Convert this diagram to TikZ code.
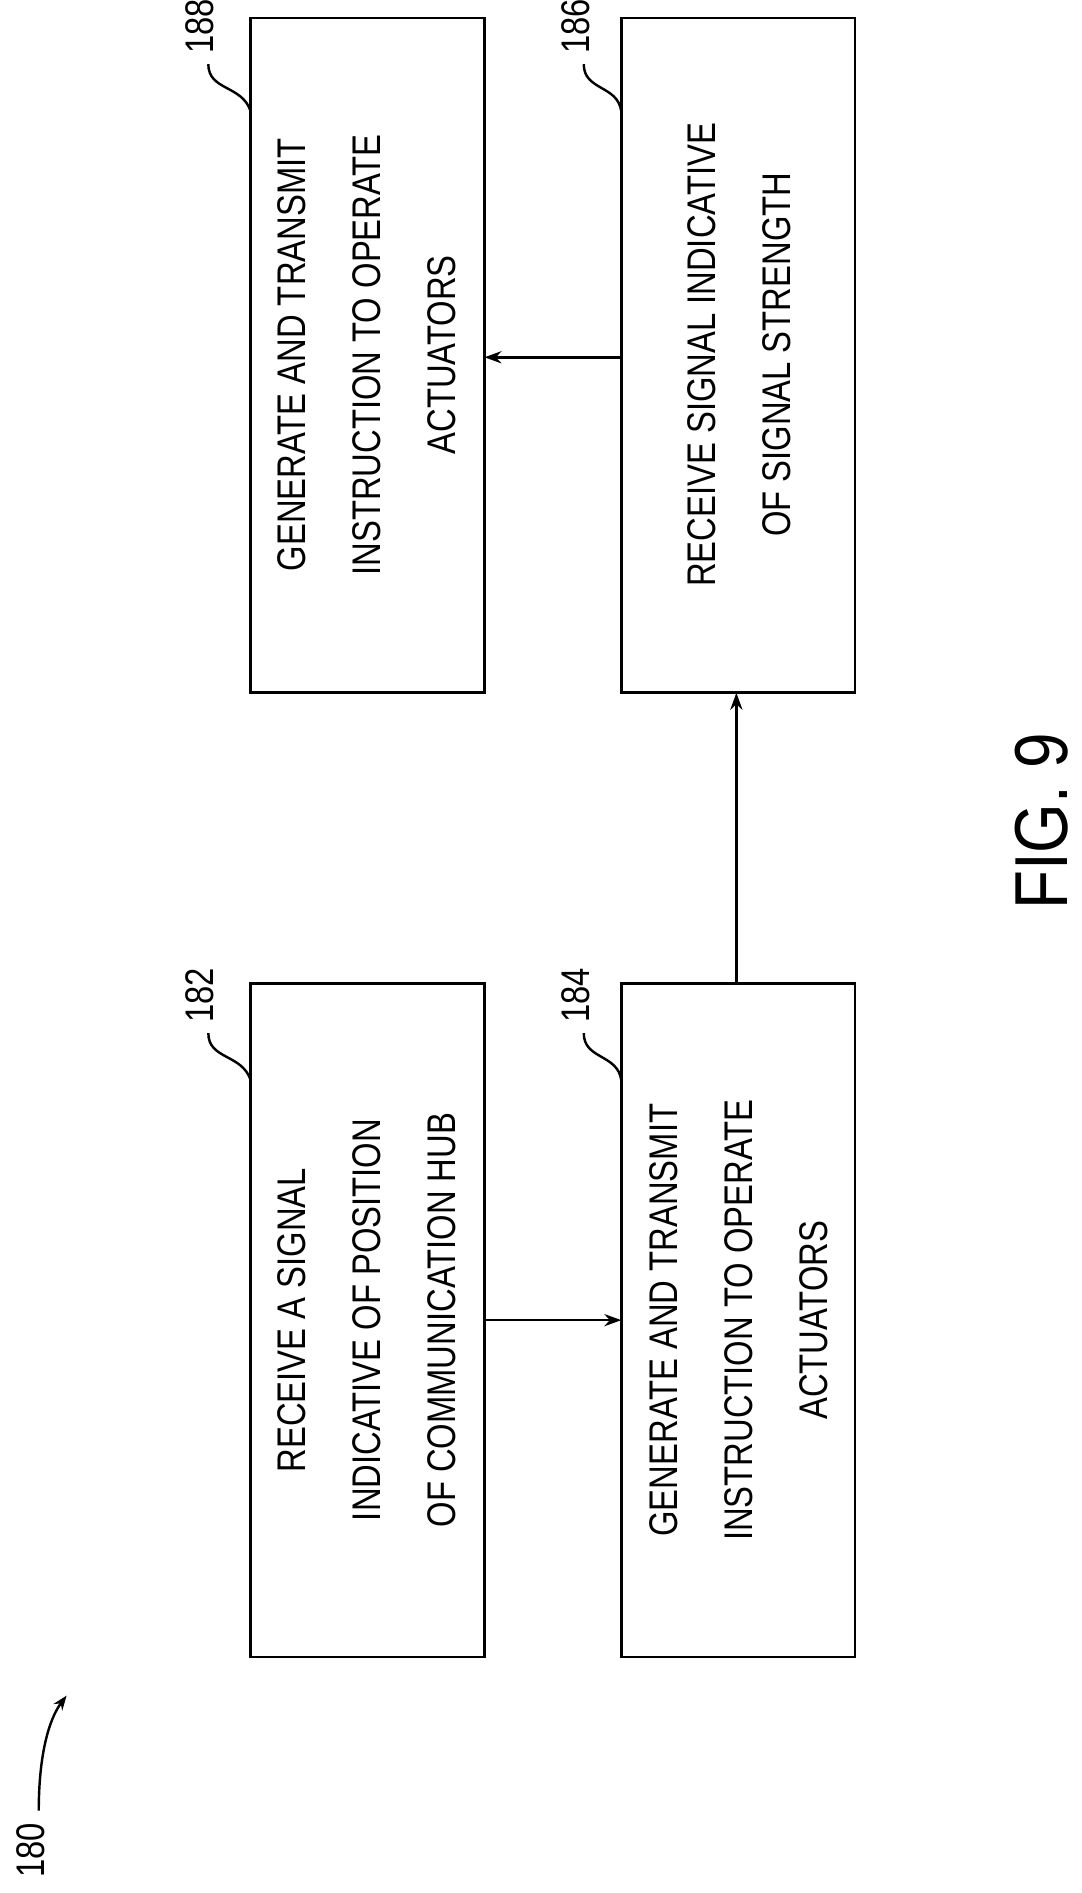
\documentclass[tikz,border=0pt]{standalone}
\usepackage{fontspec}
\setmainfont{Liberation Sans}
\usetikzlibrary{arrows.meta}
\begin{document}
\begin{tikzpicture}[x=1pt,y=-1pt,
 box/.style={draw,line width=2.2pt},
 txt/.style={rotate=90,align=center,font=\fontsize{33}{62}\selectfont,xscale=0.82,inner sep=0},
 lab/.style={rotate=90,font=\fontsize{33}{36}\selectfont,xscale=0.82,inner sep=0},
 arr/.style={line width=2.2pt,-{Stealth[length=14pt,width=10pt]}},
 lead/.style={line width=2pt}]
\useasboundingbox (0,0) rectangle (893,1563);
\draw[box] (207,812) rectangle (400,1368);
\draw[box] (513,812) rectangle (706,1368);
\draw[box] (513,15) rectangle (706,572);
\draw[box] (207,15) rectangle (400,572);
\node[txt] (t182) at (303,1090) {RECEIVE A SIGNAL\\INDICATIVE OF POSITION\\OF COMMUNICATION HUB};
\node[txt] (t184) at (610,1090) {GENERATE AND TRANSMIT\\INSTRUCTION TO OPERATE\\ACTUATORS};
\node[txt] (t186) at (610,293) {RECEIVE SIGNAL INDICATIVE\\OF SIGNAL STRENGTH};
\node[txt] (t188) at (303,293) {GENERATE AND TRANSMIT\\INSTRUCTION TO OPERATE\\ACTUATORS};
\coordinate (a1) at (400,1090); \coordinate (a2) at (513,1090);
\coordinate (b1) at (608,812); \coordinate (b2) at (608,572);
\coordinate (c1) at (513,295); \coordinate (c2) at (400,295);
\draw[arr] (a1) -- (a2);
\draw[arr] (b1) -- (b2);
\draw[arr] (c1) -- (c2);
\node[lab] (l182) at (165,822) {182};
\node[lab] (l184) at (475,822) {184};
\node[lab] (l186) at (475,22) {186};
\node[lab] (l188) at (165,22) {188};
\draw[lead] (172,853) .. controls (172,875) and (200,870) .. (207,892);
\draw[lead] (482,853) .. controls (482,875) and (510,870) .. (513,892);
\draw[lead] (482,53) .. controls (482,75) and (510,70) .. (513,92);
\draw[lead] (172,53) .. controls (172,75) and (200,70) .. (207,92);
\node[lab] (l180) at (25,1528) {180};
\coordinate (p180) at (55,1400);
\draw[lead,-{Stealth[length=12pt,width=9pt]}] (32,1495) .. controls (32,1450) and (40,1420) .. (p180);
\node[rotate=90,font=\fontsize{62}{62}\selectfont,xscale=0.85,inner sep=0] (fig) at (860,678) {FIG. 9};
\end{tikzpicture}
\end{document}
